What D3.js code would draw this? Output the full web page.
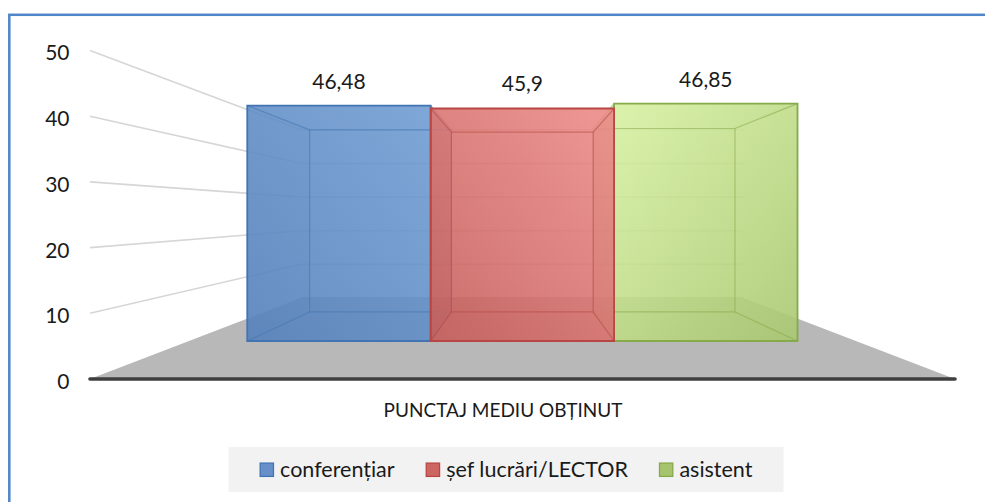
<!DOCTYPE html>
<html>
<head>
<meta charset="utf-8">
<script src="https://cdn.jsdelivr.net/npm/d3@7"></script>
<style>
  html, body { margin: 0; padding: 0; background: #fff; }
  svg { display: block; font-family: Lato, "Open Sans", sans-serif; }
</style>
</head>
<body>
<svg id="chart" width="985" height="502"></svg>
<script>
// ---------- data ----------
const categories = ["PUNCTAJ MEDIU OBȚINUT"];
const seriesNames = ["conferențiar", "șef lucrări/LECTOR", "asistent"];
const seriesValues = [46.48, 45.9, 46.85];
const yTicks = [0, 10, 20, 30, 40, 50];
const seriesColors = ["#4f81bd", "#c0504d", "#9bbb59"];
const gradLight = ["#6f9cd2", "#ee8d8a", "#d8f2a3"];
const gradDark = ["#5681bb", "#c55d5a", "#a8c76f"];
const sideColors = ["#5d87c0", "#9f4442", "#b9d585"];
const strokeColors = ["#4274b3", "#b84744", "#86a94a"];
const legendFill = ["#6790c8", "#cd6562", "#a5c46d"];

// ---------- layout ----------
const svg = d3.select("#chart");

const fmt = d3.formatLocale({decimal: ",", thousands: ".", grouping: [3], currency: ["", ""]}).format(".2~f");

// front-plane scales
const y = d3.scaleLinear().domain([0, 50]).range([379, 50.5]);
const x = d3.scaleBand().domain(categories).range([90, 955]).paddingInner(0).paddingOuter(0.106);
const xs = d3.scaleBand().domain(seriesNames).range([x(categories[0]), x(categories[0]) + x.bandwidth()]).padding(0);

// perspective
const vp = {x: 522, y: 213};
const depth = {front: 1, barFront: 0.771, barBack: 0.596, wall: 0.512};
const P = (px, py, t) => [vp.x + t * (px - vp.x), vp.y + t * (py - vp.y)];
const poly = pts => "M" + pts.map(p => p[0].toFixed(2) + "," + p[1].toFixed(2)).join("L") + "Z";

// outer frame
svg.append("rect").attr("x", 9.3).attr("y", 14.8).attr("width", 1000).attr("height", 600)
  .attr("fill", "none").attr("stroke", "#4f86c9").attr("stroke-width", 2.5);

const [ax0, ax1] = x.range();

// floor
svg.append("path")
  .attr("d", poly([P(ax0, y(0), depth.front), P(ax1, y(0), depth.front), P(ax1, y(0), depth.wall), P(ax0, y(0), depth.wall)]))
  .attr("fill", "#b8b8b8");

// gridlines: side wall + back wall
const grid = svg.append("g").attr("fill", "none").attr("stroke", "#d6d6d6").attr("stroke-width", 1.6);
yTicks.filter(v => v > 0).forEach(v => {
  const a = P(ax0, y(v), depth.front), b = P(ax0, y(v), depth.wall), c = P(ax1, y(v), depth.wall);
  grid.append("path").attr("d", `M${a}L${b}L${c}`);
});
grid.append("path").attr("d", `M${P(ax0, y(0), depth.wall)}L${P(ax1, y(0), depth.wall)}`).attr("stroke", "#a9a9a9");

// axis line
svg.append("line")
  .attr("x1", ax0).attr("x2", ax1).attr("y1", y(0)).attr("y2", y(0))
  .attr("stroke", "#3f3f3f").attr("stroke-width", 3.6).attr("stroke-linecap", "round");

// y axis labels
const yAxis = d3.axisLeft(y).tickValues(yTicks).tickSize(0).tickPadding(20.5).tickFormat(d3.format("d"));
const yg = svg.append("g").attr("transform", `translate(${ax0},0)`).call(yAxis);
yg.select(".domain").remove();
yg.selectAll("text").attr("font-family", "Lato, sans-serif").attr("font-size", 21).attr("fill", "#1a1a1a").attr("dy", "0.45em");

// gradients
const defs = svg.append("defs");
seriesNames.forEach((s, i) => {
  const g = defs.append("linearGradient").attr("id", "g" + i)
    .attr("x1", i === 2 ? "0" : "1").attr("y1", "0").attr("x2", i === 2 ? "1" : "0").attr("y2", "1");
  g.append("stop").attr("offset", "0").attr("stop-color", gradLight[i]);
  g.append("stop").attr("offset", "1").attr("stop-color", gradDark[i]);
});

// bar geometry
const bars = seriesNames.map((s, i) => {
  const v = seriesValues[i];
  const x0 = xs(s), x1 = xs(s) + xs.bandwidth();
  const yT = y(v), yB = y(0);
  const tf = depth.barFront, tb = depth.barBack;
  return {
    i, v,
    F: {tl: P(x0, yT, tf), tr: P(x1, yT, tf), br: P(x1, yB, tf), bl: P(x0, yB, tf)},
    B: {tl: P(x0, yT, tb), tr: P(x1, yT, tb), br: P(x1, yB, tb), bl: P(x0, yB, tb)}
  };
});

// painter's order: outer bars first, the middle bar last
const order = [0, 2, 1];

// inner faces
const innerG = svg.append("g");
order.forEach(idx => {
  const {i, F, B} = bars[idx];
  const g = innerG.append("g");
  g.append("path").attr("d", poly([B.tl, B.tr, B.br, B.bl])).attr("fill", seriesColors[i]).attr("fill-opacity", 0.22);
  g.append("path").attr("d", poly([F.tl, B.tl, B.bl, F.bl])).attr("fill", sideColors[i]).attr("fill-opacity", 0.35);
  g.append("path").attr("d", poly([F.tr, B.tr, B.br, F.br])).attr("fill", sideColors[i]).attr("fill-opacity", 0.25);
  g.append("path").attr("d", poly([F.tl, F.tr, B.tr, B.tl])).attr("fill", seriesColors[i]).attr("fill-opacity", 0.2);
  g.append("path").attr("d", poly([F.bl, F.br, B.br, B.bl])).attr("fill", seriesColors[i]).attr("fill-opacity", 0.3);
});

// front faces + inner edges
const frontG = svg.append("g");
order.forEach(idx => {
  const {i, F, B} = bars[idx];
  const g = frontG.append("g");
  g.append("path").attr("d", poly([F.tl, F.tr, F.br, F.bl])).attr("fill", `url(#g${i})`).attr("fill-opacity", 0.86);
  const ie = g.append("g").attr("fill", "none").attr("stroke", strokeColors[i]).attr("stroke-opacity", 0.55).attr("stroke-width", 1.2);
  ie.append("path").attr("d", poly([B.tl, B.tr, B.br, B.bl]));
  ["tl", "tr", "br", "bl"].forEach(k => ie.append("path").attr("d", `M${F[k]}L${B[k]}`));
});
order.forEach(idx => {
  const {i, v, F} = bars[idx];
  frontG.append("path").attr("d", poly([F.tl, F.tr, F.br, F.bl])).attr("fill", "none")
    .attr("stroke", strokeColors[i]).attr("stroke-width", 1.8);
});
bars.forEach(({v, F}) => {
  svg.append("text")
    .attr("x", (F.tl[0] + F.tr[0]) / 2).attr("y", F.tl[1] - 17)
    .attr("text-anchor", "middle").attr("font-size", 21).attr("fill", "#1a1a1a")
    .text(fmt(v));
});

// category label
svg.append("text").attr("x", 503).attr("y", 417).attr("text-anchor", "middle")
  .attr("font-size", 19).attr("fill", "#1a1a1a").text(categories[0]);

// legend
const lg = svg.append("g");
const lbox = lg.append("rect").attr("fill", "#f2f2f2");
const sq = 14.5, gapT = 6, gapItem = 31;
let cur = 0;
const items = seriesNames.map((s, i) => {
  const it = lg.append("g");
  it.append("rect").attr("x", 0.6).attr("y", -13.9).attr("width", sq - 1.2).attr("height", sq - 1.2)
    .attr("fill", legendFill[i]).attr("stroke", strokeColors[i]).attr("stroke-width", 1.3);
  const t = it.append("text").attr("x", sq + gapT).attr("y", 0).attr("font-size", 21.5).attr("fill", "#1a1a1a").text(s);
  const w = sq + gapT + t.node().getComputedTextLength();
  const start = cur;
  cur += w + gapItem;
  return {it, start};
});
const total = cur - gapItem;
const lx0 = 506 - total / 2;
items.forEach(d => d.it.attr("transform", `translate(${lx0 + d.start},477)`));
lbox.attr("x", lx0 - 31).attr("y", 447).attr("width", total + 62).attr("height", 45);
</script>
</body>
</html>
